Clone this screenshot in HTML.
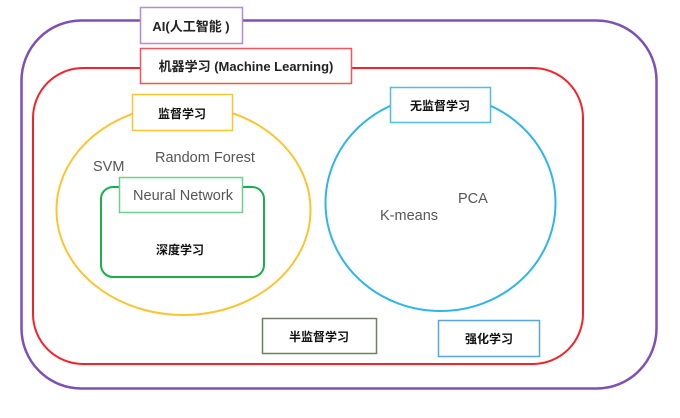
<!DOCTYPE html>
<html><head><meta charset="utf-8"><style>
body{margin:0;background:#fff;}
svg text{font-family:"Liberation Sans","Noto Sans CJK SC",sans-serif;}
</style></head><body>
<svg width="680" height="413" viewBox="0 0 680 413" xmlns="http://www.w3.org/2000/svg">
<rect x="21.5" y="20.5" width="635" height="368" rx="60" fill="none" stroke="#7e4fb5" stroke-width="2.5"/>
<rect x="33" y="68" width="550" height="296" rx="50" fill="none" stroke="#f3222b" stroke-width="2"/>
<ellipse cx="183.5" cy="210" rx="127" ry="105" fill="none" stroke="#fbc531" stroke-width="2"/>
<ellipse cx="440.5" cy="203" rx="115" ry="108" fill="none" stroke="#2eb5ec" stroke-width="2"/>
<rect x="101" y="187" width="163" height="90" rx="12" fill="none" stroke="#1aae4f" stroke-width="2"/>

<rect x="140.5" y="7.5" width="102" height="36" fill="#fff" stroke="#b48ad6" stroke-width="1.5"/>
<text x="191" y="31" text-anchor="middle" font-size="13" font-weight="bold" fill="#222">AI(人工智能 )</text>
<rect x="140.5" y="48.5" width="211" height="35" fill="#fff" stroke="#f2545b" stroke-width="1.5"/>
<text x="246" y="71" text-anchor="middle" font-size="13" font-weight="bold" fill="#222">机器学习 (Machine Learning)</text>
<rect x="132.5" y="94.5" width="100" height="36" fill="#fff" stroke="#fbc531" stroke-width="1.5"/>
<text x="182" y="118" text-anchor="middle" font-size="12" font-weight="bold" fill="#111">监督学习</text>
<rect x="390.5" y="87.5" width="100" height="35" fill="#fff" stroke="#4fbde8" stroke-width="1.5"/>
<text x="440" y="110" text-anchor="middle" font-size="12" font-weight="bold" fill="#111">无监督学习</text>
<rect x="119.5" y="177.5" width="123" height="35" fill="#fff" stroke="#6fcf8a" stroke-width="1.5"/>
<text x="183" y="200" text-anchor="middle" font-size="14.5" fill="#555">Neural Network</text>
<text x="93" y="171" font-size="14.5" fill="#555">SVM</text>
<text x="155" y="162" font-size="14.5" fill="#555">Random Forest</text>
<text x="380" y="220" font-size="14.5" fill="#555">K-means</text>
<text x="458" y="203" font-size="14.5" fill="#555">PCA</text>
<text x="180" y="254" text-anchor="middle" font-size="12" font-weight="bold" fill="#111">深度学习</text>
<rect x="262.5" y="318.5" width="114" height="35" fill="#fff" stroke="#6b8262" stroke-width="1.5"/>
<text x="319" y="341" text-anchor="middle" font-size="12" font-weight="bold" fill="#111">半监督学习</text>
<rect x="438.5" y="320.5" width="101" height="36" fill="#fff" stroke="#5aa5dd" stroke-width="1.5"/>
<text x="489" y="343" text-anchor="middle" font-size="12" font-weight="bold" fill="#111">强化学习</text>
</svg>
</body></html>
